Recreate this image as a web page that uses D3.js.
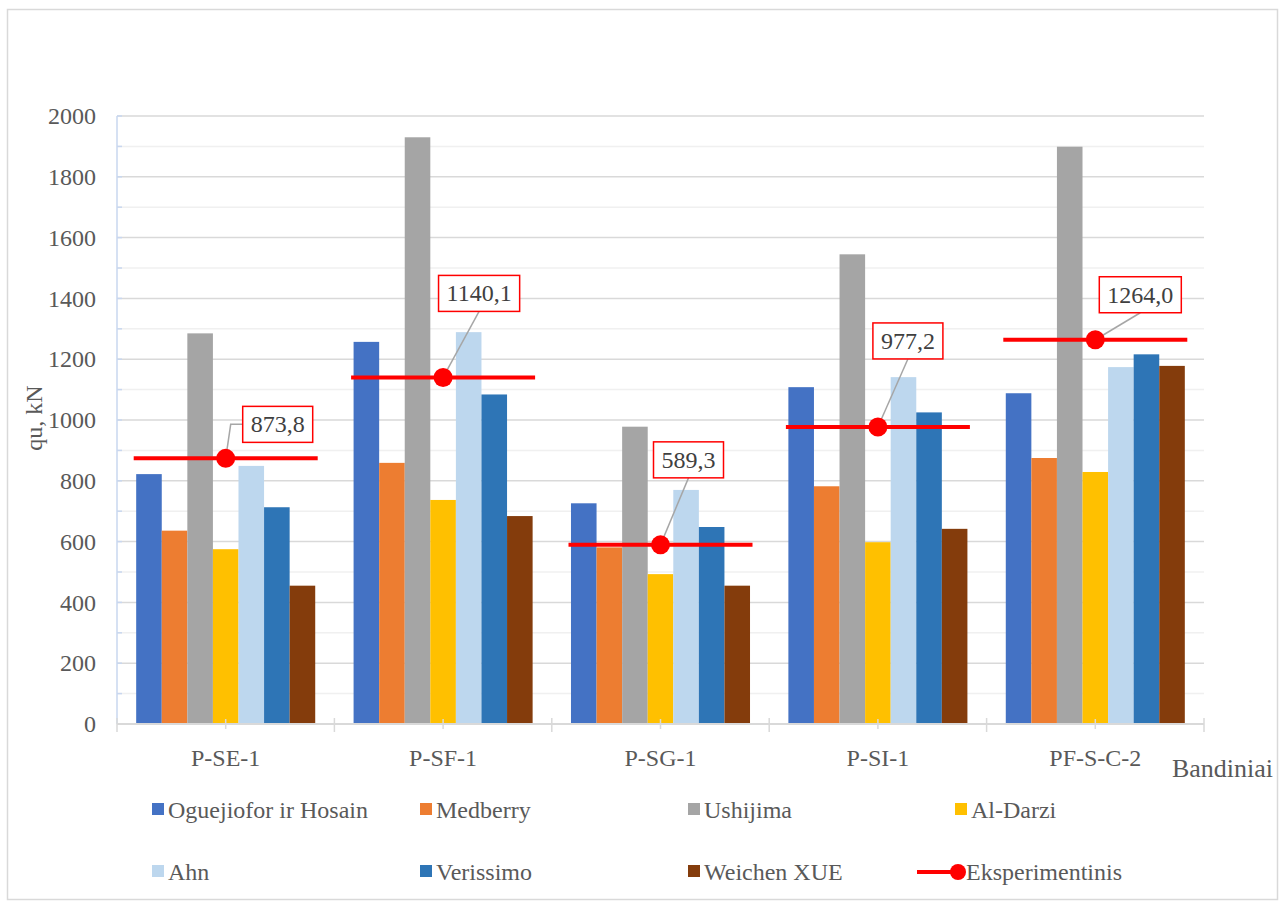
<!DOCTYPE html>
<html>
<head>
<meta charset="utf-8">
<script src="https://cdn.jsdelivr.net/npm/d3@7/dist/d3.min.js"></script>
<style>
  html, body { margin: 0; padding: 0; background: #fff; }
  svg { display: block; }
  svg text { font-family: "Liberation Serif", "Tinos", "DejaVu Serif", serif; }
</style>
</head>
<body>
<svg id="chart" width="1285" height="903"></svg>
<script>
// Specimens (x axis categories)
const categories = ["P-SE-1", "P-SF-1", "P-SG-1", "P-SI-1", "PF-S-C-2"];

// Predicted capacity qu (kN) by method, one value per specimen
const oguejioforHosain = [822, 1257, 726, 1108, 1088];
const medberry         = [636, 859, 581, 782, 875];
const ushijima         = [1285, 1930, 978, 1545, 1899];
const alDarzi          = [575, 737, 493, 598, 829];
const ahn              = [849, 1289, 770, 1141, 1174];
const verissimo        = [713, 1084, 648, 1025, 1216];
const weichenXue       = [455, 684, 455, 642, 1178];

// Experimental capacity (kN)
const experimental = [873.8, 1140.1, 589.3, 977.2, 1264.0];
const experimentalLabels = ["873,8", "1140,1", "589,3", "977,2", "1264,0"];

// Y axis ticks
const yTicks = [0, 200, 400, 600, 800, 1000, 1200, 1400, 1600, 1800, 2000];

const seriesNames = ["Oguejiofor ir Hosain", "Medberry", "Ushijima", "Al-Darzi", "Ahn", "Verissimo", "Weichen XUE"];
const seriesValues = [oguejioforHosain, medberry, ushijima, alDarzi, ahn, verissimo, weichenXue];
const seriesColors = ["#4472c4", "#ed7d31", "#a5a5a5", "#ffc000", "#bdd7ee", "#2e75b6", "#843c0c"];

// Data label placement, relative to the experimental marker
const labelOffsets = [[52, -34], [36, -84], [28, -85], [30, -86], [45, -45]];

const svg = d3.select("#chart");
const plot = { left: 117, right: 1204, top: 116, bottom: 724 };
const textColor = "#595959";
const fs = 24;

// Outer chart border
svg.append("rect")
  .attr("x", 7.5).attr("y", 9.5).attr("width", 1270).attr("height", 890)
  .attr("fill", "#fff").attr("stroke", "#d9d9d9").attr("stroke-width", 1.5);

const x0 = d3.scaleBand().domain(categories).range([plot.left, plot.right]).padding(0);
const y = d3.scaleLinear().domain([0, 2000]).range([plot.bottom, plot.top]);

// Gap of 150% of a bar width split around each group of 7 bars
const groupInset = x0.bandwidth() * (1.5 / 2) / (7 + 1.5);
const x1 = d3.scaleBand().domain(d3.range(seriesNames.length))
  .range([groupInset, x0.bandwidth() - groupInset]).padding(0);

// Minor gridlines
const minor = d3.range(100, 2000, 200);
svg.append("g").selectAll("line").data(minor).join("line")
  .attr("x1", plot.left).attr("x2", plot.right)
  .attr("y1", d => y(d)).attr("y2", d => y(d))
  .attr("stroke", "#f0f0f0").attr("stroke-width", 1.5);

// Major gridlines
svg.append("g").selectAll("line").data(yTicks.filter(d => d > 0)).join("line")
  .attr("x1", plot.left).attr("x2", plot.right)
  .attr("y1", d => y(d)).attr("y2", d => y(d))
  .attr("stroke", "#d9d9d9").attr("stroke-width", 1.5);

// Left axis line with ticks every 100
svg.append("line")
  .attr("x1", plot.left).attr("x2", plot.left)
  .attr("y1", y(2000)).attr("y2", y(0))
  .attr("stroke", "#c9d7ef").attr("stroke-width", 1.5);
svg.append("g").selectAll("line").data(d3.range(0, 2001, 100)).join("line")
  .attr("x1", plot.left).attr("x2", plot.left + 5)
  .attr("y1", d => y(d)).attr("y2", d => y(d))
  .attr("stroke", "#c9d7ef").attr("stroke-width", 1.5);

// Y tick labels
const yAxis = d3.axisLeft(y).tickValues(yTicks).tickSize(0).tickPadding(21).tickFormat(d3.format("d"));
const gy = svg.append("g").attr("transform", `translate(${plot.left},0)`).call(yAxis);
gy.select(".domain").remove();
gy.attr("font-family", null).attr("font-size", null);
gy.selectAll("text").attr("fill", textColor).attr("font-size", fs);

// Y axis title
svg.append("text")
  .attr("transform", `translate(42,${(plot.top + plot.bottom) / 2 - 2}) rotate(-90)`)
  .attr("text-anchor", "middle").attr("fill", textColor).attr("font-size", fs)
  .text("qu, kN");

// Bars
const groups = svg.append("g").selectAll("g").data(categories).join("g")
  .attr("transform", d => `translate(${x0(d)},0)`);
groups.selectAll("rect")
  .data((c, ci) => seriesValues.map((vals, si) => ({ si, v: vals[ci] })))
  .join("rect")
  .attr("x", d => x1(d.si))
  .attr("width", x1.bandwidth())
  .attr("y", d => y(d.v))
  .attr("height", d => y(0) - y(d.v))
  .attr("fill", d => seriesColors[d.si]);

// X axis line and ticks
svg.append("line")
  .attr("x1", plot.left).attr("x2", plot.right)
  .attr("y1", plot.bottom).attr("y2", plot.bottom)
  .attr("stroke", "#d9d9d9").attr("stroke-width", 2);
const boundaries = categories.map(c => x0(c)).concat([plot.right]);
svg.append("g").selectAll("line").data(boundaries).join("line")
  .attr("x1", d => d).attr("x2", d => d)
  .attr("y1", plot.bottom - 6).attr("y2", plot.bottom + 8)
  .attr("stroke", "#d9d9d9").attr("stroke-width", 1.5);
svg.append("g").selectAll("line").data(categories).join("line")
  .attr("x1", d => x0(d) + x0.bandwidth() / 2).attr("x2", d => x0(d) + x0.bandwidth() / 2)
  .attr("y1", plot.bottom - 5).attr("y2", plot.bottom + 5)
  .attr("stroke", "#d9d9d9").attr("stroke-width", 1.5);

// Category labels
svg.append("g").selectAll("text").data(categories).join("text")
  .attr("x", d => x0(d) + x0.bandwidth() / 2)
  .attr("y", plot.bottom + 42)
  .attr("text-anchor", "middle").attr("fill", textColor).attr("font-size", fs)
  .text(d => d);

// X axis title
svg.append("text")
  .attr("x", 1273).attr("y", 777)
  .attr("text-anchor", "end").attr("fill", textColor).attr("font-size", 26)
  .text("Bandiniai");

// Experimental values: horizontal segment per specimen
const expHalf = 92;
const expG = svg.append("g");
categories.forEach((c, i) => {
  const cx = x0(c) + x0.bandwidth() / 2;
  const cy = y(experimental[i]);
  expG.append("line")
    .attr("x1", cx - expHalf).attr("x2", cx + expHalf)
    .attr("y1", cy).attr("y2", cy)
    .attr("stroke", "#ff0000").attr("stroke-width", 4);
});

// Data labels with leader lines
const labelG = svg.append("g");
categories.forEach((c, i) => {
  const cx = x0(c) + x0.bandwidth() / 2;
  const cy = y(experimental[i]);
  const [dx, dy] = labelOffsets[i];
  const bx = cx + dx, by = cy + dy;
  const t = labelG.append("text")
    .attr("x", bx).attr("y", by + 8)
    .attr("text-anchor", "middle").attr("fill", "#404040").attr("font-size", 24)
    .text(experimentalLabels[i]);
  const w = t.node().getComputedTextLength() + 16;
  const h = 36;
  if (dy > -40) {
    // elbow leader to the left side of the box
    labelG.insert("polyline", "text")
      .attr("points", `${cx},${cy} ${cx + 5},${by} ${bx - w / 2},${by}`)
      .attr("fill", "none").attr("stroke", "#a6a6a6").attr("stroke-width", 1.5);
  } else {
    labelG.insert("line", "text")
      .attr("x1", cx).attr("y1", cy).attr("x2", bx).attr("y2", by + h / 2)
      .attr("stroke", "#a6a6a6").attr("stroke-width", 1.5);
  }
  labelG.insert("rect", "text")
    .attr("x", bx - w / 2).attr("y", by - h / 2).attr("width", w).attr("height", h)
    .attr("fill", "#fff").attr("stroke", "#ff0000").attr("stroke-width", 1.5);
});

// Markers drawn over segments and leaders
categories.forEach((c, i) => {
  svg.append("circle")
    .attr("cx", x0(c) + x0.bandwidth() / 2).attr("cy", y(experimental[i]))
    .attr("r", 9.5).attr("fill", "#ff0000");
});

// Legend
const legendCols = [152, 420, 688, 955];
const legendRows = [810, 872];
const legendItems = seriesNames.map((n, i) => ({ name: n, color: seriesColors[i], type: "bar" }))
  .concat([{ name: "Eksperimentinis", color: "#ff0000", type: "line" }]);
const leg = svg.append("g");
legendItems.forEach((it, i) => {
  const lx = legendCols[i % 4], ly = legendRows[Math.floor(i / 4)];
  if (it.type === "bar") {
    leg.append("rect").attr("x", lx).attr("y", ly - 7).attr("width", 12).attr("height", 12)
      .attr("fill", it.color);
    leg.append("text").attr("x", lx + 16).attr("y", ly + 8)
      .attr("fill", textColor).attr("font-size", fs).text(it.name);
  } else {
    leg.append("line").attr("x1", lx - 38).attr("x2", lx + 4).attr("y1", ly).attr("y2", ly)
      .attr("stroke", it.color).attr("stroke-width", 4);
    leg.append("circle").attr("cx", lx + 3).attr("cy", ly).attr("r", 8).attr("fill", it.color);
    leg.append("text").attr("x", lx + 11).attr("y", ly + 8)
      .attr("fill", textColor).attr("font-size", fs).text(it.name);
  }
});
</script>
</body>
</html>
